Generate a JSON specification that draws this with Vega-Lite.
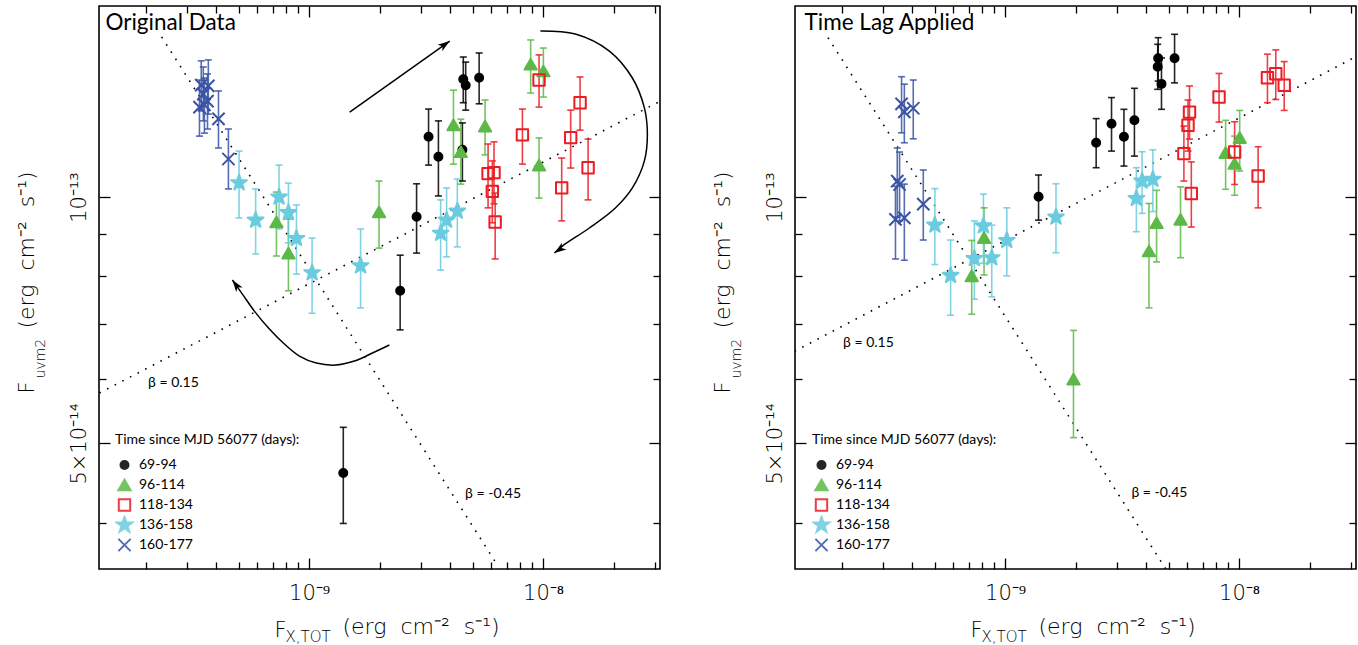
{
  "$schema": "https://vega.github.io/schema/vega-lite/v6.json",
  "background": "white",
  "padding": {"left": 14, "top": 4, "right": 4, "bottom": 4},
  "bounds": "flush",
  "spacing": 135,
  "config": {
    "view": {"stroke": "black", "strokeWidth": 1.6},
    "axis": {"domain": false, "grid": false, "tickColor": "black", "tickWidth": 1.3, "labelFont": "DejaVu Sans", "labelFontWeight": 200, "labelFontSize": 21, "labelColor": "black", "titleFont": "DejaVu Sans", "titleFontWeight": 200, "titleColor": "black", "labelFlush": false, "labelOverlap": false},
    "legend": {"titleFont": "Lato", "titleFontSize": 14, "titleFontWeight": "normal", "titleColor": "black", "labelFont": "Lato", "labelFontSize": 14, "labelColor": "black", "symbolStrokeWidth": 2, "rowPadding": 1, "clipHeight": 19, "titlePadding": 9, "labelOffset": 5, "padding": 0, "titleLimit": 400}
  },
  "datasets": {
    "orig": [
      {"g":"69-94","fx":4.56e-9,"fuv":1.393e-13,"lo":1.304e-13,"hi":1.483e-13},
      {"g":"69-94","fx":4.67e-9,"fuv":1.370e-13,"lo":1.277e-13,"hi":1.462e-13},
      {"g":"69-94","fx":5.33e-9,"fuv":1.399e-13,"lo":1.300e-13,"hi":1.500e-13},
      {"g":"69-94","fx":3.24e-9,"fuv":1.185e-13,"lo":1.094e-13,"hi":1.281e-13},
      {"g":"69-94","fx":3.57e-9,"fuv":1.120e-13,"lo":1.003e-13,"hi":1.239e-13},
      {"g":"69-94","fx":4.52e-9,"fuv":1.142e-13,"lo":1.046e-13,"hi":1.232e-13},
      {"g":"69-94","fx":2.88e-9,"fuv":9.46e-14,"lo":8.54e-14,"hi":1.038e-13},
      {"g":"69-94","fx":2.45e-9,"fuv":7.68e-14,"lo":6.88e-14,"hi":8.49e-14},
      {"g":"69-94","fx":1.40e-9,"fuv":4.60e-14,"lo":3.99e-14,"hi":5.23e-14},
      {"g":"96-114","fx":7.25e-10,"fuv":9.32e-14,"lo":8.47e-14,"hi":1.014e-13},
      {"g":"96-114","fx":8.16e-10,"fuv":8.54e-14,"lo":7.68e-14,"hi":9.40e-14},
      {"g":"96-114","fx":1.99e-9,"fuv":9.59e-14,"lo":8.66e-14,"hi":1.046e-13},
      {"g":"96-114","fx":4.14e-9,"fuv":1.225e-13,"lo":1.097e-13,"hi":1.351e-13},
      {"g":"96-114","fx":4.45e-9,"fuv":1.136e-13,"lo":1.037e-13,"hi":1.245e-13},
      {"g":"96-114","fx":5.65e-9,"fuv":1.221e-13,"lo":1.126e-13,"hi":1.314e-13},
      {"g":"96-114","fx":8.85e-9,"fuv":1.453e-13,"lo":1.340e-13,"hi":1.556e-13},
      {"g":"96-114","fx":1.003e-8,"fuv":1.426e-13,"lo":1.325e-13,"hi":1.521e-13},
      {"g":"96-114","fx":9.61e-9,"fuv":1.094e-13,"lo":9.97e-14,"hi":1.181e-13},
      {"g":"118-134","fx":9.61e-9,"fuv":1.390e-13,"lo":1.288e-13,"hi":1.492e-13},
      {"g":"118-134","fx":1.439e-8,"fuv":1.304e-13,"lo":1.207e-13,"hi":1.402e-13},
      {"g":"118-134","fx":8.16e-9,"fuv":1.191e-13,"lo":1.097e-13,"hi":1.281e-13},
      {"g":"118-134","fx":1.312e-8,"fuv":1.182e-13,"lo":1.085e-13,"hi":1.277e-13},
      {"g":"118-134","fx":1.557e-8,"fuv":1.086e-13,"lo":9.92e-14,"hi":1.177e-13},
      {"g":"118-134","fx":1.201e-8,"fuv":1.026e-13,"lo":9.35e-14,"hi":1.116e-13},
      {"g":"118-134","fx":5.82e-9,"fuv":1.068e-13,"lo":9.70e-14,"hi":1.161e-13},
      {"g":"118-134","fx":6.17e-9,"fuv":1.071e-13,"lo":9.81e-14,"hi":1.168e-13},
      {"g":"118-134","fx":6.07e-9,"fuv":1.016e-13,"lo":9.30e-14,"hi":1.107e-13},
      {"g":"118-134","fx":6.24e-9,"fuv":9.32e-14,"lo":8.40e-14,"hi":1.011e-13},
      {"g":"136-158","fx":5.02e-10,"fuv":1.041e-13,"lo":9.43e-14,"hi":1.138e-13},
      {"g":"136-158","fx":5.91e-10,"fuv":9.37e-14,"lo":8.52e-14,"hi":1.023e-13},
      {"g":"136-158","fx":7.44e-10,"fuv":1.000e-13,"lo":9.14e-14,"hi":1.094e-13},
      {"g":"136-158","fx":8.16e-10,"fuv":9.57e-14,"lo":8.79e-14,"hi":1.040e-13},
      {"g":"136-158","fx":8.83e-10,"fuv":8.90e-14,"lo":8.05e-14,"hi":9.78e-14},
      {"g":"136-158","fx":1.03e-9,"fuv":8.08e-14,"lo":7.21e-14,"hi":8.91e-14},
      {"g":"136-158","fx":1.66e-9,"fuv":8.24e-14,"lo":7.32e-14,"hi":9.14e-14},
      {"g":"136-158","fx":3.65e-9,"fuv":9.03e-14,"lo":8.14e-14,"hi":9.92e-14},
      {"g":"136-158","fx":3.87e-9,"fuv":9.37e-14,"lo":8.45e-14,"hi":1.026e-13},
      {"g":"136-158","fx":4.30e-9,"fuv":9.61e-14,"lo":8.69e-14,"hi":1.052e-13},
      {"g":"160-177","fx":3.46e-10,"fuv":1.370e-13,"lo":1.274e-13,"hi":1.467e-13},
      {"g":"160-177","fx":3.71e-10,"fuv":1.367e-13,"lo":1.263e-13,"hi":1.471e-13},
      {"g":"160-177","fx":3.53e-10,"fuv":1.336e-13,"lo":1.239e-13,"hi":1.442e-13},
      {"g":"160-177","fx":3.68e-10,"fuv":1.310e-13,"lo":1.211e-13,"hi":1.414e-13},
      {"g":"160-177","fx":3.40e-10,"fuv":1.288e-13,"lo":1.187e-13,"hi":1.390e-13},
      {"g":"160-177","fx":3.57e-10,"fuv":1.296e-13,"lo":1.197e-13,"hi":1.398e-13},
      {"g":"160-177","fx":4.10e-10,"fuv":1.246e-13,"lo":1.148e-13,"hi":1.348e-13},
      {"g":"160-177","fx":4.52e-10,"fuv":1.113e-13,"lo":1.023e-13,"hi":1.211e-13}
    ],
    "lag": [
      {"g":"69-94","fx":1.39e-9,"fuv":1.001e-13,"lo":9.37e-14,"hi":1.064e-13},
      {"g":"69-94","fx":2.45e-9,"fuv":1.165e-13,"lo":1.086e-13,"hi":1.247e-13},
      {"g":"69-94","fx":2.85e-9,"fuv":1.229e-13,"lo":1.138e-13,"hi":1.323e-13},
      {"g":"69-94","fx":3.22e-9,"fuv":1.185e-13,"lo":1.091e-13,"hi":1.280e-13},
      {"g":"69-94","fx":3.57e-9,"fuv":1.241e-13,"lo":1.122e-13,"hi":1.358e-13},
      {"g":"69-94","fx":4.51e-9,"fuv":1.478e-13,"lo":1.386e-13,"hi":1.566e-13},
      {"g":"69-94","fx":4.49e-9,"fuv":1.443e-13,"lo":1.354e-13,"hi":1.537e-13},
      {"g":"69-94","fx":4.66e-9,"fuv":1.375e-13,"lo":1.280e-13,"hi":1.479e-13},
      {"g":"69-94","fx":5.30e-9,"fuv":1.478e-13,"lo":1.379e-13,"hi":1.581e-13},
      {"g":"96-114","fx":7.20e-10,"fuv":8.01e-14,"lo":7.19e-14,"hi":8.85e-14},
      {"g":"96-114","fx":8.13e-10,"fuv":8.92e-14,"lo":8.03e-14,"hi":9.70e-14},
      {"g":"96-114","fx":4.12e-9,"fuv":8.59e-14,"lo":7.32e-14,"hi":9.82e-14},
      {"g":"96-114","fx":4.44e-9,"fuv":9.30e-14,"lo":8.33e-14,"hi":1.019e-13},
      {"g":"96-114","fx":5.62e-9,"fuv":9.39e-14,"lo":8.43e-14,"hi":1.029e-13},
      {"g":"96-114","fx":8.76e-9,"fuv":1.133e-13,"lo":1.022e-13,"hi":1.241e-13},
      {"g":"96-114","fx":9.57e-9,"fuv":1.099e-13,"lo":1.005e-13,"hi":1.187e-13},
      {"g":"96-114","fx":1.006e-8,"fuv":1.182e-13,"lo":1.076e-13,"hi":1.276e-13},
      {"g":"96-114","fx":1.96e-9,"fuv":5.99e-14,"lo":5.08e-14,"hi":6.87e-14},
      {"g":"118-134","fx":1.322e-8,"fuv":1.399e-13,"lo":1.304e-13,"hi":1.495e-13},
      {"g":"118-134","fx":1.435e-8,"fuv":1.415e-13,"lo":1.316e-13,"hi":1.513e-13},
      {"g":"118-134","fx":1.559e-8,"fuv":1.370e-13,"lo":1.276e-13,"hi":1.464e-13},
      {"g":"118-134","fx":8.21e-9,"fuv":1.325e-13,"lo":1.235e-13,"hi":1.416e-13},
      {"g":"118-134","fx":6.14e-9,"fuv":1.270e-13,"lo":1.177e-13,"hi":1.367e-13},
      {"g":"118-134","fx":6.05e-9,"fuv":1.224e-13,"lo":1.138e-13,"hi":1.314e-13},
      {"g":"118-134","fx":5.81e-9,"fuv":1.130e-13,"lo":1.046e-13,"hi":1.221e-13},
      {"g":"118-134","fx":9.57e-9,"fuv":1.135e-13,"lo":1.036e-13,"hi":1.236e-13},
      {"g":"118-134","fx":1.206e-8,"fuv":1.061e-13,"lo":9.70e-14,"hi":1.152e-13},
      {"g":"118-134","fx":6.25e-9,"fuv":1.010e-13,"lo":9.19e-14,"hi":1.104e-13},
      {"g":"136-158","fx":5.01e-10,"fuv":9.24e-14,"lo":8.27e-14,"hi":1.024e-13},
      {"g":"136-158","fx":5.85e-10,"fuv":8.02e-14,"lo":7.17e-14,"hi":8.86e-14},
      {"g":"136-158","fx":7.39e-10,"fuv":8.41e-14,"lo":7.50e-14,"hi":9.35e-14},
      {"g":"136-158","fx":8.08e-10,"fuv":9.22e-14,"lo":8.30e-14,"hi":1.008e-13},
      {"g":"136-158","fx":8.77e-10,"fuv":8.43e-14,"lo":7.55e-14,"hi":9.24e-14},
      {"g":"136-158","fx":1.017e-9,"fuv":8.85e-14,"lo":8.01e-14,"hi":9.70e-14},
      {"g":"136-158","fx":1.65e-9,"fuv":9.45e-14,"lo":8.55e-14,"hi":1.038e-13},
      {"g":"136-158","fx":3.64e-9,"fuv":9.96e-14,"lo":9.07e-14,"hi":1.086e-13},
      {"g":"136-158","fx":3.85e-9,"fuv":1.046e-13,"lo":9.55e-14,"hi":1.136e-13},
      {"g":"136-158","fx":4.28e-9,"fuv":1.051e-13,"lo":9.60e-14,"hi":1.142e-13},
      {"g":"160-177","fx":3.61e-10,"fuv":1.300e-13,"lo":1.198e-13,"hi":1.403e-13},
      {"g":"160-177","fx":3.71e-10,"fuv":1.271e-13,"lo":1.165e-13,"hi":1.374e-13},
      {"g":"160-177","fx":4.05e-10,"fuv":1.284e-13,"lo":1.178e-13,"hi":1.390e-13},
      {"g":"160-177","fx":3.46e-10,"fuv":1.046e-13,"lo":9.45e-14,"hi":1.148e-13},
      {"g":"160-177","fx":3.54e-10,"fuv":1.036e-13,"lo":9.35e-14,"hi":1.135e-13},
      {"g":"160-177","fx":3.40e-10,"fuv":9.39e-14,"lo":8.40e-14,"hi":1.031e-13},
      {"g":"160-177","fx":3.71e-10,"fuv":9.43e-14,"lo":8.37e-14,"hi":1.037e-13},
      {"g":"160-177","fx":4.47e-10,"fuv":9.80e-14,"lo":8.86e-14,"hi":1.079e-13}
    ],
    "linesL": [
      {"line":"b015","fx":1.27e-10,"fuv":5.76e-14},
      {"line":"b015","fx":3.17e-8,"fuv":1.31e-13},
      {"line":"bm045","fx":2.344e-10,"fuv":1.569e-13},
      {"line":"bm045","fx":6.4e-9,"fuv":3.543e-14}
    ],
    "linesR": [
      {"line":"b015","fx":1.26e-10,"fuv":6.48e-14},
      {"line":"b015","fx":3.15e-8,"fuv":1.484e-13},
      {"line":"bm045","fx":1.751e-10,"fuv":1.566e-13},
      {"line":"bm045","fx":4.9e-9,"fuv":3.497e-14}
    ],
    "arrows": [
      {"arrow":"a1","i":0,"fx":1.491e-9,"fuv":1.270e-13},
      {"arrow":"a1","i":1,"fx":3.990e-9,"fuv":1.551e-13},
      {"arrow":"a2","i":0,"fx":9.739e-9,"fuv":1.596e-13},
      {"arrow":"a2","i":1,"fx":1.374e-8,"fuv":1.582e-13},
      {"arrow":"a2","i":2,"fx":1.920e-8,"fuv":1.508e-13},
      {"arrow":"a2","i":3,"fx":2.408e-8,"fuv":1.398e-13},
      {"arrow":"a2","i":4,"fx":2.710e-8,"fuv":1.285e-13},
      {"arrow":"a2","i":5,"fx":2.791e-8,"fuv":1.194e-13},
      {"arrow":"a2","i":6,"fx":2.710e-8,"fuv":1.107e-13},
      {"arrow":"a2","i":7,"fx":2.408e-8,"fuv":1.026e-13},
      {"arrow":"a2","i":8,"fx":2.037e-8,"fuv":9.695e-14},
      {"arrow":"a2","i":9,"fx":1.577e-8,"fuv":9.165e-14},
      {"arrow":"a2","i":10,"fx":1.209e-8,"fuv":8.711e-14},
      {"arrow":"a2","i":11,"fx":1.118e-8,"fuv":8.542e-14},
      {"arrow":"a3","i":0,"fx":2.203e-9,"fuv":6.593e-14},
      {"arrow":"a3","i":1,"fx":1.865e-9,"fuv":6.446e-14},
      {"arrow":"a3","i":2,"fx":1.562e-9,"fuv":6.302e-14},
      {"arrow":"a3","i":3,"fx":1.296e-9,"fuv":6.231e-14},
      {"arrow":"a3","i":4,"fx":1.074e-9,"fuv":6.267e-14},
      {"arrow":"a3","i":5,"fx":9.089e-10,"fuv":6.391e-14},
      {"arrow":"a3","i":6,"fx":7.842e-10,"fuv":6.611e-14},
      {"arrow":"a3","i":7,"fx":6.766e-10,"fuv":6.896e-14},
      {"arrow":"a3","i":8,"fx":5.837e-10,"fuv":7.254e-14},
      {"arrow":"a3","i":9,"fx":5.188e-10,"fuv":7.610e-14},
      {"arrow":"a3","i":10,"fx":4.701e-10,"fuv":7.916e-14}
    ],
    "tips": [
      {"arrow":"a1","fx":3.990e-9,"fuv":1.551e-13},
      {"arrow":"a2","fx":1.118e-8,"fuv":8.542e-14},
      {"arrow":"a3","fx":4.701e-10,"fuv":7.916e-14}
    ],
    "notesL": [
      {"text":"Original Data","kind":"head","fx":1.348e-10,"fuv":1.599e-13},
      {"text":"β = 0.15","kind":"beta","fx":2.051e-10,"fuv":5.86e-14},
      {"text":"β = -0.45","kind":"beta","fx":4.642e-9,"fuv":4.29e-14}
    ],
    "notesR": [
      {"text":"Time Lag Applied","kind":"head","fx":1.390e-10,"fuv":1.599e-13},
      {"text":"β = 0.15","kind":"beta","fx":2.030e-10,"fuv":6.555e-14},
      {"text":"β = -0.45","kind":"beta","fx":3.466e-9,"fuv":4.298e-14}
    ]
  },
  "resolve": {"scale": {"shape": "independent", "fill": "independent", "stroke": "independent", "size": "independent"}},
  "hconcat": [
    {
      "width": 561, "height": 563,
      "resolve": {"axis": {"x": "independent", "y": "independent"}},
      "layer": [
        {
          "data": {"name": "linesL"},
          "mark": {"type": "line", "clip": true, "strokeDash": [1.6, 7], "strokeWidth": 1.6, "color": "black"},
          "encoding": {
            "x": {"field": "fx", "type": "quantitative", "scale": {"type": "log", "domain": [1.265e-10, 3.16e-8], "nice": false},
                  "axis": {"orient": "bottom", "ticks": false, "labels": false, "title": "(erg\u00a0 cm⁻²\u00a0 s⁻¹)", "titleX": 243, "titleY": 64, "titleAlign": "left", "titleBaseline": "alphabetic", "titleFontSize": 22}},
            "y": {"field": "fuv", "type": "quantitative", "scale": {"type": "log", "domain": [3.51e-14, 1.712e-13], "nice": false},
                  "axis": {"orient": "left", "ticks": false, "labels": false, "title": "(erg\u00a0 cm⁻²\u00a0 s⁻¹)", "titleAngle": 270, "titleX": -66, "titleY": 322, "titleAlign": "left", "titleBaseline": "alphabetic", "titleFontSize": 22}},
            "detail": {"field": "line"}
          }
        },
        {
          "data": {"name": "arrows"},
          "mark": {"type": "line", "interpolate": "catmull-rom", "strokeWidth": 1.5, "color": "black"},
          "encoding": {
            "x": {"field": "fx", "type": "quantitative", "scale": {"type": "log", "domain": [1.265e-10, 3.16e-8], "nice": false}, "axis": null},
            "y": {"field": "fuv", "type": "quantitative", "scale": {"type": "log", "domain": [3.51e-14, 1.712e-13], "nice": false}, "axis": null},
            "detail": {"field": "arrow"},
            "order": {"field": "i", "type": "quantitative"}
          }
        },
        {
          "data": {"name": "tips"},
          "mark": {"type": "point", "shape": "M0,0L-1,3L0,2.2L1,3Z", "size": 64, "filled": true, "color": "black", "opacity": 1},
          "encoding": {
            "x": {"field": "fx", "type": "quantitative", "scale": {"type": "log", "domain": [1.265e-10, 3.16e-8], "nice": false}, "axis": null},
            "y": {"field": "fuv", "type": "quantitative", "scale": {"type": "log", "domain": [3.51e-14, 1.712e-13], "nice": false}, "axis": null},
            "angle": {"field": "arrow", "type": "ordinal", "scale": {"type": "ordinal", "domain": ["a1", "a2", "a3"], "range": [54.6, 235, 324]}}
          }
        },
        {
          "data": {"name": "orig"},
          "mark": {"type": "rule", "strokeWidth": 1.6, "opacity": 0.85},
          "encoding": {
            "x": {"field": "fx", "type": "quantitative", "scale": {"type": "log", "domain": [1.265e-10, 3.16e-8], "nice": false},
                  "axis": {"orient": "bottom", "values": [1e-9, 1e-8], "tickSize": -11, "labelExpr": "datum.value < 3e-9 ? '10⁻⁹' : '10⁻⁸'", "labelAlign": "center", "labelBaseline": "top", "labelPadding": 24, "title": "F", "titleX": 175, "titleY": 67, "titleAlign": "left", "titleBaseline": "alphabetic", "titleFontSize": 21}},
            "y": {"field": "lo", "type": "quantitative", "scale": {"type": "log", "domain": [3.51e-14, 1.712e-13], "nice": false},
                  "axis": {"orient": "left", "values": [5e-14, 1e-13], "tickSize": -11, "labelExpr": "datum.value > 7e-14 ? '10⁻¹³' : '5×10⁻¹⁴'", "labelAngle": 270, "labelAlign": "center", "labelBaseline": "alphabetic", "labelPadding": 25, "title": "F", "titleAngle": 270, "titleX": -66, "titleY": 387, "titleAlign": "left", "titleBaseline": "alphabetic", "titleFontSize": 21}},
            "y2": {"field": "hi"},
            "stroke": {"field": "g", "type": "nominal", "scale": {"domain": ["69-94", "96-114", "118-134", "136-158", "160-177"], "range": ["#000000", "#5DB947", "#EC1C24", "#6BCBDF", "#3A53A4"]},
                      "legend": {"title": "Time since MJD 56077 (days):", "orient": "none", "legendX": 16, "legendY": 426.5}}
          }
        },
        {
          "data": {"name": "orig"},
          "mark": {"type": "point", "shape": "stroke", "size": 49, "strokeWidth": 1.6, "opacity": 0.85, "filled": false},
          "encoding": {
            "x": {"field": "fx", "type": "quantitative", "scale": {"type": "log", "domain": [1.265e-10, 3.16e-8], "nice": false},
                  "axis": {"orient": "bottom", "values": [2e-10, 3e-10, 4e-10, 5e-10, 6e-10, 7e-10, 8e-10, 9e-10, 2e-9, 3e-9, 4e-9, 5e-9, 6e-9, 7e-9, 8e-9, 9e-9, 2e-8, 3e-8], "tickSize": -7, "labels": false, "title": "X,TOT", "titleX": 186, "titleY": 72, "titleAlign": "left", "titleBaseline": "alphabetic", "titleFontSize": 15}},
            "y": {"field": "lo", "type": "quantitative", "scale": {"type": "log", "domain": [3.51e-14, 1.712e-13], "nice": false},
                  "axis": {"orient": "left", "values": [4e-14, 6e-14, 7e-14, 8e-14, 9e-14], "tickSize": -7, "labels": false, "title": "uvm2", "titleAngle": 270, "titleX": -55, "titleY": 372, "titleAlign": "left", "titleBaseline": "alphabetic", "titleFontSize": 14}},
            "stroke": {"field": "g", "type": "nominal", "scale": {"domain": ["69-94", "96-114", "118-134", "136-158", "160-177"], "range": ["#000000", "#5DB947", "#EC1C24", "#6BCBDF", "#3A53A4"]},
                      "legend": {"title": "Time since MJD 56077 (days):", "orient": "none", "legendX": 16, "legendY": 426.5}}
          }
        },
        {
          "data": {"name": "orig"},
          "mark": {"type": "point", "shape": "stroke", "size": 49, "strokeWidth": 1.6, "opacity": 0.85, "filled": false},
          "encoding": {
            "x": {"field": "fx", "type": "quantitative", "scale": {"type": "log", "domain": [1.265e-10, 3.16e-8], "nice": false},
                  "axis": {"orient": "top", "values": [1e-9, 1e-8], "tickSize": -11, "labels": false, "title": null}},
            "y": {"field": "hi", "type": "quantitative", "scale": {"type": "log", "domain": [3.51e-14, 1.712e-13], "nice": false},
                  "axis": {"orient": "right", "values": [5e-14, 1e-13], "tickSize": -11, "labels": false, "title": null}},
            "stroke": {"field": "g", "type": "nominal", "scale": {"domain": ["69-94", "96-114", "118-134", "136-158", "160-177"], "range": ["#000000", "#5DB947", "#EC1C24", "#6BCBDF", "#3A53A4"]},
                      "legend": {"title": "Time since MJD 56077 (days):", "orient": "none", "legendX": 16, "legendY": 426.5}}
          }
        },
        {
          "data": {"name": "orig"},
          "mark": {"type": "point", "opacity": 1, "strokeWidth": 2, "strokeJoin": "round"},
          "encoding": {
            "x": {"field": "fx", "type": "quantitative", "scale": {"type": "log", "domain": [1.265e-10, 3.16e-8], "nice": false},
                  "axis": {"orient": "top", "values": [2e-10, 3e-10, 4e-10, 5e-10, 6e-10, 7e-10, 8e-10, 9e-10, 2e-9, 3e-9, 4e-9, 5e-9, 6e-9, 7e-9, 8e-9, 9e-9, 2e-8, 3e-8], "tickSize": -7, "labels": false, "title": null}},
            "y": {"field": "fuv", "type": "quantitative", "scale": {"type": "log", "domain": [3.51e-14, 1.712e-13], "nice": false},
                  "axis": {"orient": "right", "values": [4e-14, 6e-14, 7e-14, 8e-14, 9e-14], "tickSize": -7, "labels": false, "title": null}},
            "shape": {"field": "g", "type": "nominal", "scale": {"domain": ["69-94", "96-114", "118-134", "136-158", "160-177"], "range": ["circle", "triangle-up", "square", "M0,-1L0.235,-0.324L0.951,-0.309L0.38,0.124L0.588,0.809L0,0.4L-0.588,0.809L-0.38,0.124L-0.951,-0.309L-0.235,-0.324Z", "M-1,-1L1,1M-1,1L1,-1"]},
                      "legend": {"title": "Time since MJD 56077 (days):", "orient": "none", "legendX": 16, "legendY": 426.5}},
            "fill": {"field": "g", "type": "nominal", "scale": {"domain": ["69-94", "96-114", "118-134", "136-158", "160-177"], "range": ["#000000", "#5DB947", "transparent", "#6BCBDF", "transparent"]},
                      "legend": {"title": "Time since MJD 56077 (days):", "orient": "none", "legendX": 16, "legendY": 426.5}},
            "stroke": {"field": "g", "type": "nominal", "scale": {"domain": ["69-94", "96-114", "118-134", "136-158", "160-177"], "range": ["#000000", "#5DB947", "#EC1C24", "#6BCBDF", "#3A53A4"]},
                      "legend": {"title": "Time since MJD 56077 (days):", "orient": "none", "legendX": 16, "legendY": 426.5}},
            "size": {"field": "g", "type": "nominal", "scale": {"type": "ordinal", "domain": ["69-94", "96-114", "118-134", "136-158", "160-177"], "range": [64, 150, 130, 272, 150]},
                      "legend": {"title": "Time since MJD 56077 (days):", "orient": "none", "legendX": 16, "legendY": 426.5}}
          }
        },
        {
          "data": {"name": "notesL"},
          "transform": [{"filter": "datum.kind == 'head'"}],
          "mark": {"type": "text", "align": "left", "baseline": "alphabetic", "font": "Lato", "fontSize": 22.5, "color": "black"},
          "encoding": {
            "x": {"field": "fx", "type": "quantitative", "scale": {"type": "log", "domain": [1.265e-10, 3.16e-8], "nice": false}, "axis": null},
            "y": {"field": "fuv", "type": "quantitative", "scale": {"type": "log", "domain": [3.51e-14, 1.712e-13], "nice": false}, "axis": null},
            "text": {"field": "text"}
          }
        },
        {
          "data": {"name": "notesL"},
          "transform": [{"filter": "datum.kind == 'beta'"}],
          "mark": {"type": "text", "align": "left", "baseline": "alphabetic", "font": "Lato", "fontSize": 14, "color": "black"},
          "encoding": {
            "x": {"field": "fx", "type": "quantitative", "scale": {"type": "log", "domain": [1.265e-10, 3.16e-8], "nice": false}, "axis": null},
            "y": {"field": "fuv", "type": "quantitative", "scale": {"type": "log", "domain": [3.51e-14, 1.712e-13], "nice": false}, "axis": null},
            "text": {"field": "text"}
          }
        }
      ]
    },
    {
      "width": 561, "height": 563,
      "resolve": {"axis": {"x": "independent", "y": "independent"}},
      "layer": [
        {
          "data": {"name": "linesR"},
          "mark": {"type": "line", "clip": true, "strokeDash": [1.6, 7], "strokeWidth": 1.6, "color": "black"},
          "encoding": {
            "x": {"field": "fx", "type": "quantitative", "scale": {"type": "log", "domain": [1.265e-10, 3.16e-8], "nice": false},
                  "axis": {"orient": "bottom", "ticks": false, "labels": false, "title": "(erg\u00a0 cm⁻²\u00a0 s⁻¹)", "titleX": 243, "titleY": 64, "titleAlign": "left", "titleBaseline": "alphabetic", "titleFontSize": 22}},
            "y": {"field": "fuv", "type": "quantitative", "scale": {"type": "log", "domain": [3.51e-14, 1.712e-13], "nice": false},
                  "axis": {"orient": "left", "ticks": false, "labels": false, "title": "(erg\u00a0 cm⁻²\u00a0 s⁻¹)", "titleAngle": 270, "titleX": -66, "titleY": 322, "titleAlign": "left", "titleBaseline": "alphabetic", "titleFontSize": 22}},
            "detail": {"field": "line"}
          }
        },
        {
          "data": {"name": "lag"},
          "mark": {"type": "rule", "strokeWidth": 1.6, "opacity": 0.85},
          "encoding": {
            "x": {"field": "fx", "type": "quantitative", "scale": {"type": "log", "domain": [1.265e-10, 3.16e-8], "nice": false},
                  "axis": {"orient": "bottom", "values": [1e-9, 1e-8], "tickSize": -11, "labelExpr": "datum.value < 3e-9 ? '10⁻⁹' : '10⁻⁸'", "labelAlign": "center", "labelBaseline": "top", "labelPadding": 24, "title": "F", "titleX": 175, "titleY": 67, "titleAlign": "left", "titleBaseline": "alphabetic", "titleFontSize": 21}},
            "y": {"field": "lo", "type": "quantitative", "scale": {"type": "log", "domain": [3.51e-14, 1.712e-13], "nice": false},
                  "axis": {"orient": "left", "values": [5e-14, 1e-13], "tickSize": -11, "labelExpr": "datum.value > 7e-14 ? '10⁻¹³' : '5×10⁻¹⁴'", "labelAngle": 270, "labelAlign": "center", "labelBaseline": "alphabetic", "labelPadding": 25, "title": "F", "titleAngle": 270, "titleX": -66, "titleY": 387, "titleAlign": "left", "titleBaseline": "alphabetic", "titleFontSize": 21}},
            "y2": {"field": "hi"},
            "stroke": {"field": "g", "type": "nominal", "scale": {"domain": ["69-94", "96-114", "118-134", "136-158", "160-177"], "range": ["#000000", "#5DB947", "#EC1C24", "#6BCBDF", "#3A53A4"]},
                      "legend": {"title": "Time since MJD 56077 (days):", "orient": "none", "legendX": 17, "legendY": 426.5}}
          }
        },
        {
          "data": {"name": "lag"},
          "mark": {"type": "point", "shape": "stroke", "size": 49, "strokeWidth": 1.6, "opacity": 0.85, "filled": false},
          "encoding": {
            "x": {"field": "fx", "type": "quantitative", "scale": {"type": "log", "domain": [1.265e-10, 3.16e-8], "nice": false},
                  "axis": {"orient": "bottom", "values": [2e-10, 3e-10, 4e-10, 5e-10, 6e-10, 7e-10, 8e-10, 9e-10, 2e-9, 3e-9, 4e-9, 5e-9, 6e-9, 7e-9, 8e-9, 9e-9, 2e-8, 3e-8], "tickSize": -7, "labels": false, "title": "X,TOT", "titleX": 186, "titleY": 72, "titleAlign": "left", "titleBaseline": "alphabetic", "titleFontSize": 15}},
            "y": {"field": "lo", "type": "quantitative", "scale": {"type": "log", "domain": [3.51e-14, 1.712e-13], "nice": false},
                  "axis": {"orient": "left", "values": [4e-14, 6e-14, 7e-14, 8e-14, 9e-14], "tickSize": -7, "labels": false, "title": "uvm2", "titleAngle": 270, "titleX": -55, "titleY": 372, "titleAlign": "left", "titleBaseline": "alphabetic", "titleFontSize": 14}},
            "stroke": {"field": "g", "type": "nominal", "scale": {"domain": ["69-94", "96-114", "118-134", "136-158", "160-177"], "range": ["#000000", "#5DB947", "#EC1C24", "#6BCBDF", "#3A53A4"]},
                      "legend": {"title": "Time since MJD 56077 (days):", "orient": "none", "legendX": 17, "legendY": 426.5}}
          }
        },
        {
          "data": {"name": "lag"},
          "mark": {"type": "point", "shape": "stroke", "size": 49, "strokeWidth": 1.6, "opacity": 0.85, "filled": false},
          "encoding": {
            "x": {"field": "fx", "type": "quantitative", "scale": {"type": "log", "domain": [1.265e-10, 3.16e-8], "nice": false},
                  "axis": {"orient": "top", "values": [1e-9, 1e-8], "tickSize": -11, "labels": false, "title": null}},
            "y": {"field": "hi", "type": "quantitative", "scale": {"type": "log", "domain": [3.51e-14, 1.712e-13], "nice": false},
                  "axis": {"orient": "right", "values": [5e-14, 1e-13], "tickSize": -11, "labels": false, "title": null}},
            "stroke": {"field": "g", "type": "nominal", "scale": {"domain": ["69-94", "96-114", "118-134", "136-158", "160-177"], "range": ["#000000", "#5DB947", "#EC1C24", "#6BCBDF", "#3A53A4"]},
                      "legend": {"title": "Time since MJD 56077 (days):", "orient": "none", "legendX": 17, "legendY": 426.5}}
          }
        },
        {
          "data": {"name": "lag"},
          "mark": {"type": "point", "opacity": 1, "strokeWidth": 2, "strokeJoin": "round"},
          "encoding": {
            "x": {"field": "fx", "type": "quantitative", "scale": {"type": "log", "domain": [1.265e-10, 3.16e-8], "nice": false},
                  "axis": {"orient": "top", "values": [2e-10, 3e-10, 4e-10, 5e-10, 6e-10, 7e-10, 8e-10, 9e-10, 2e-9, 3e-9, 4e-9, 5e-9, 6e-9, 7e-9, 8e-9, 9e-9, 2e-8, 3e-8], "tickSize": -7, "labels": false, "title": null}},
            "y": {"field": "fuv", "type": "quantitative", "scale": {"type": "log", "domain": [3.51e-14, 1.712e-13], "nice": false},
                  "axis": {"orient": "right", "values": [4e-14, 6e-14, 7e-14, 8e-14, 9e-14], "tickSize": -7, "labels": false, "title": null}},
            "shape": {"field": "g", "type": "nominal", "scale": {"domain": ["69-94", "96-114", "118-134", "136-158", "160-177"], "range": ["circle", "triangle-up", "square", "M0,-1L0.235,-0.324L0.951,-0.309L0.38,0.124L0.588,0.809L0,0.4L-0.588,0.809L-0.38,0.124L-0.951,-0.309L-0.235,-0.324Z", "M-1,-1L1,1M-1,1L1,-1"]},
                      "legend": {"title": "Time since MJD 56077 (days):", "orient": "none", "legendX": 17, "legendY": 426.5}},
            "fill": {"field": "g", "type": "nominal", "scale": {"domain": ["69-94", "96-114", "118-134", "136-158", "160-177"], "range": ["#000000", "#5DB947", "transparent", "#6BCBDF", "transparent"]},
                      "legend": {"title": "Time since MJD 56077 (days):", "orient": "none", "legendX": 17, "legendY": 426.5}},
            "stroke": {"field": "g", "type": "nominal", "scale": {"domain": ["69-94", "96-114", "118-134", "136-158", "160-177"], "range": ["#000000", "#5DB947", "#EC1C24", "#6BCBDF", "#3A53A4"]},
                      "legend": {"title": "Time since MJD 56077 (days):", "orient": "none", "legendX": 17, "legendY": 426.5}},
            "size": {"field": "g", "type": "nominal", "scale": {"type": "ordinal", "domain": ["69-94", "96-114", "118-134", "136-158", "160-177"], "range": [64, 150, 130, 272, 150]},
                      "legend": {"title": "Time since MJD 56077 (days):", "orient": "none", "legendX": 17, "legendY": 426.5}}
          }
        },
        {
          "data": {"name": "notesR"},
          "transform": [{"filter": "datum.kind == 'head'"}],
          "mark": {"type": "text", "align": "left", "baseline": "alphabetic", "font": "Lato", "fontSize": 22.5, "color": "black"},
          "encoding": {
            "x": {"field": "fx", "type": "quantitative", "scale": {"type": "log", "domain": [1.265e-10, 3.16e-8], "nice": false}, "axis": null},
            "y": {"field": "fuv", "type": "quantitative", "scale": {"type": "log", "domain": [3.51e-14, 1.712e-13], "nice": false}, "axis": null},
            "text": {"field": "text"}
          }
        },
        {
          "data": {"name": "notesR"},
          "transform": [{"filter": "datum.kind == 'beta'"}],
          "mark": {"type": "text", "align": "left", "baseline": "alphabetic", "font": "Lato", "fontSize": 14, "color": "black"},
          "encoding": {
            "x": {"field": "fx", "type": "quantitative", "scale": {"type": "log", "domain": [1.265e-10, 3.16e-8], "nice": false}, "axis": null},
            "y": {"field": "fuv", "type": "quantitative", "scale": {"type": "log", "domain": [3.51e-14, 1.712e-13], "nice": false}, "axis": null},
            "text": {"field": "text"}
          }
        }
      ]
    }
  ]
}
